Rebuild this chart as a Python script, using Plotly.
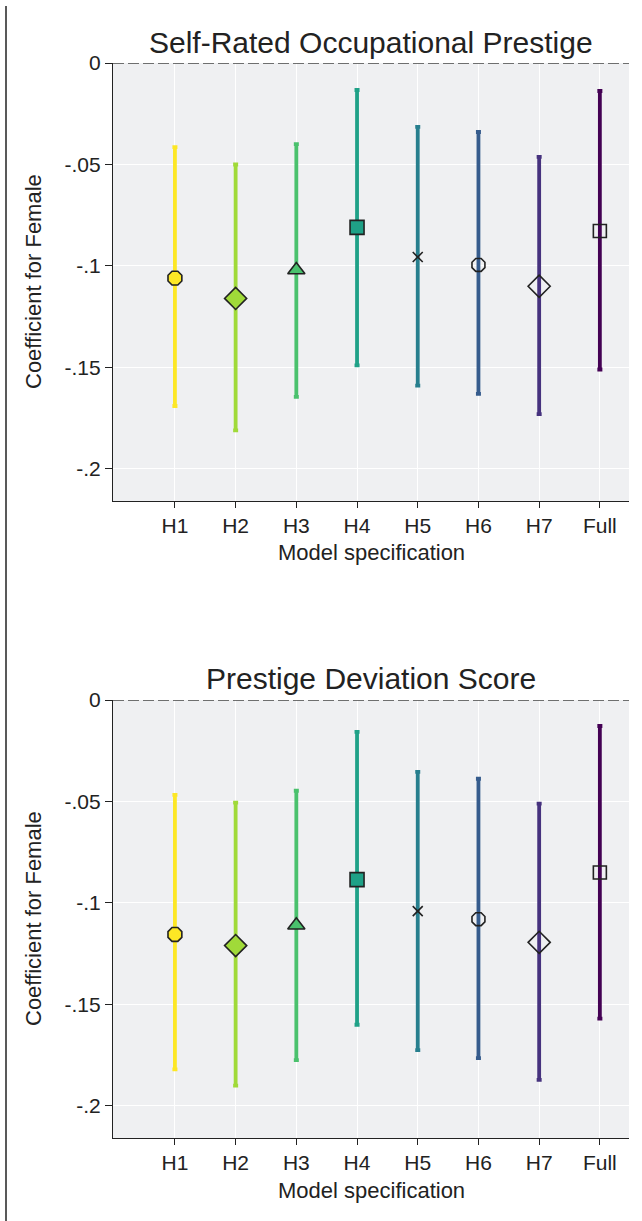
import plotly.graph_objects as go

models = ["H1", "H2", "H3", "H4", "H5", "H6", "H7", "Full"]

# Self-Rated Occupational Prestige
sr_est = [-0.106, -0.116, -0.102, -0.081, -0.0956, -0.0995, -0.110, -0.0828]
sr_lo = [-0.169, -0.181, -0.1645, -0.149, -0.159, -0.163, -0.173, -0.151]
sr_hi = [-0.0414, -0.050, -0.040, -0.0133, -0.0315, -0.034, -0.0463, -0.0138]

# Prestige Deviation Score
pd_est = [-0.1155, -0.121, -0.111, -0.0885, -0.104, -0.108, -0.1194, -0.085]
pd_lo = [-0.182, -0.190, -0.1774, -0.160, -0.1725, -0.1764, -0.1872, -0.157]
pd_hi = [-0.0467, -0.0506, -0.0447, -0.0157, -0.0354, -0.0388, -0.0511, -0.0128]

ytick_vals = [0, -0.05, -0.1, -0.15, -0.2]
ytick_text = ["0", "-.05", "-.1", "-.15", "-.2"]

colors = ["#fde725", "#a0da39", "#4ac16d", "#1fa187", "#277f8e", "#365c8d", "#46327e", "#440154"]
symbols = ["octagon", "diamond", "triangle-up", "square", "x-thin-open", "octagon-open", "diamond-open", "square-open"]
fills = ["#fde725", "#a0da39", "#4ac16d", "#1fa187", "#222222", "#222222", "#222222", "#222222"]
sizes = [15, 17, 15, 14, 10, 14, 17, 13]

W, H = 642, 1221
L, R, T, B = 113, 13, 63, 83
plot_h = H - T - B  # 1075
top_dom = [(1138 - 501) / plot_h, 1.0]
bot_dom = [0.0, (1138 - 700) / plot_h]
Y_RANGE = [-0.2158, 0]

fig = go.Figure()

panels = [
    ("x", "y", sr_est, sr_lo, sr_hi),
    ("x2", "y2", pd_est, pd_lo, pd_hi),
]
for xa, ya, est, lo, hi in panels:
    for i, m in enumerate(models):
        fig.add_trace(go.Scatter(
            x=[m], y=[est[i]], xaxis=xa, yaxis=ya, mode="markers",
            marker=dict(symbol=symbols[i], size=sizes[i], color=fills[i],
                        line=dict(color="#222222", width=1.6)),
            error_y=dict(type="data", symmetric=False,
                         array=[hi[i] - est[i]], arrayminus=[est[i] - lo[i]],
                         color=colors[i], thickness=3.8, width=2.5),
            showlegend=False, hoverinfo="skip",
        ))

FAM = "Liberation Sans, Arial, sans-serif"
axis_font = dict(family=FAM, size=21, color="#222222")
xcommon = dict(type="category", categoryorder="array", categoryarray=models,
               range=[-1.02, 7.48], showgrid=True, gridcolor="white", gridwidth=1,
               showline=True, linecolor="#222222", linewidth=1.2, ticks="outside",
               ticklen=6, tickcolor="#222222", tickfont=axis_font, zeroline=False,
               fixedrange=True)
ycommon = dict(range=Y_RANGE, tickvals=ytick_vals, ticktext=ytick_text,
               showgrid=True, gridcolor="white", gridwidth=1, showline=True,
               linecolor="#222222", linewidth=1.2, ticks="outside", ticklen=7,
               tickcolor="#222222", tickfont=axis_font, zeroline=False, fixedrange=True)

fig.update_layout(
    width=W, height=H,
    margin=dict(l=L, r=R, t=T, b=B),
    paper_bgcolor="white", plot_bgcolor="#eff0f2",
    font=axis_font,
    xaxis=dict(**xcommon, anchor="y"),
    yaxis=dict(**ycommon, domain=top_dom, anchor="x"),
    xaxis2=dict(**xcommon, anchor="y2"),
    yaxis2=dict(**ycommon, domain=bot_dom, anchor="x2"),
)

# dashed zero lines
for xa, ya in [("x", "y"), ("x2", "y2")]:
    fig.add_shape(type="line", xref=f"{xa} domain", yref=ya, x0=0, x1=1, y0=0, y1=0,
                  line=dict(color="#444444", width=1.5, dash="11px,4px"), layer="above")

plot_w = W - L - R
def px_x(p):
    return (p - L) / plot_w
def px_y(p):
    return (H - B - p) / plot_h

titles = [("Self-Rated Occupational Prestige", 42, 282, 552),
          ("Prestige Deviation Score", 679, 919, 1190)]
ann = []
for txt, ty, ymid, xty in titles:
    ann.append(dict(text=txt, xref="paper", yref="paper", x=px_x(371), y=px_y(ty),
                    xanchor="center", yanchor="middle", showarrow=False,
                    font=dict(family=FAM, size=30, color="#222222")))
    ann.append(dict(text="Coefficient for Female", xref="paper", yref="paper",
                    x=px_x(33), y=px_y(ymid), xanchor="center", yanchor="middle",
                    textangle=-90, showarrow=False, font=dict(family=FAM, size=22, color="#222222")))
    ann.append(dict(text="Model specification", xref="paper", yref="paper",
                    x=px_x(371), y=px_y(xty), xanchor="center", yanchor="middle",
                    showarrow=False, font=dict(family=FAM, size=22, color="#222222")))
fig.update_layout(annotations=ann)

# outer frame: left edge
fig.add_shape(type="line", xref="paper", yref="paper", x0=px_x(6), x1=px_x(6),
              y0=px_y(1221), y1=px_y(6), line=dict(color="#222222", width=1.5), layer="above")
# outer frame: top edge, referenced to the top panel's y axis (6 px above the page top margin)
top_units_per_px = (Y_RANGE[1] - Y_RANGE[0]) / (501 - 63)
y_top_frame = Y_RANGE[1] + (63 - 6) * top_units_per_px
fig.add_shape(type="line", xref="paper", yref="y", x0=px_x(6), x1=px_x(642),
              y0=y_top_frame, y1=y_top_frame, line=dict(color="#222222", width=1.5),
              layer="above")

fig.write_html("out.html", config={"displayModeBar": False},
               post_script="document.body.style.margin='0';")
